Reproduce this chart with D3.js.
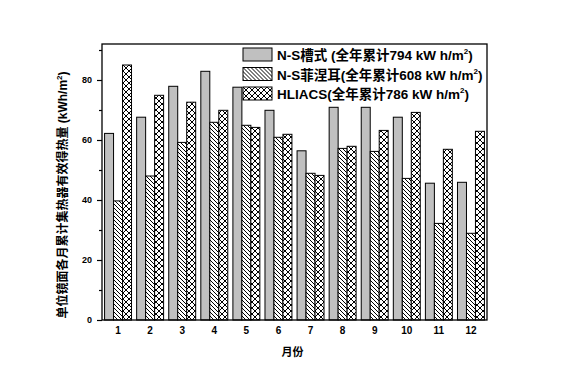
<!DOCTYPE html>
<html>
<body style="margin:0;background:#fff">
    <svg id="chart"></svg>
</body>
</html>

<style>
    text {
        font-family: "Liberation Sans", "Noto Sans CJK SC", sans-serif;
        font-weight: bold;
        fill: #000;
    }
</style>

<script src="https://cdn.jsdelivr.net/npm/d3@7"></script>
<script>
    "use strict"
    const width = 567;
    const height = 385;

    // values
    const months = ["1", "2", "3", "4", "5", "6", "7", "8", "9", "10", "11", "12"];
    const troughVals = [62.2, 67.6, 77.9, 82.9, 77.6, 69.9, 56.4, 70.9, 70.9, 67.6, 45.6, 45.9];
    const fresnelVals = [39.7, 48.0, 59.2, 65.9, 64.9, 60.9, 48.9, 57.2, 56.2, 47.2, 32.2, 28.9];
    const hliacsVals = [85.0, 74.9, 72.6, 69.9, 64.2, 61.9, 48.2, 57.9, 63.2, 69.2, 56.9, 62.9];
    const seriesNames = ["N-S槽式 (全年累计794 kW h/m", "N-S菲涅耳(全年累计608 kW h/m", "HLIACS(全年累计786 kW h/m"];
    const majorTicks = [0, 20, 40, 60, 80];
    const minorTicks = [10, 30, 50, 70, 90];

    const series = [troughVals, fresnelVals, hliacsVals];
    const fills = ["#c0c0c0", "url(#hatch)", "url(#cross)"];

    const margin = { top: 44, right: 80, bottom: 65, left: 102 };
    const plotW = width - margin.left - margin.right;
    const plotH = height - margin.top - margin.bottom;

    const svg = d3.select("#chart")
        .attr("width", width)
        .attr("height", height);

    const defs = svg.append("defs");
    const hatch = defs.append("pattern")
        .attr("id", "hatch")
        .attr("patternUnits", "userSpaceOnUse")
        .attr("width", 4).attr("height", 4);
    hatch.append("rect").attr("width", 4).attr("height", 4).attr("fill", "#fff");
    hatch.append("path")
        .attr("d", "M-1,-1L5,5M-1,3L1,5M3,-1L5,1")
        .attr("stroke", "#000").attr("stroke-width", 1);

    const cross = defs.append("pattern")
        .attr("id", "cross")
        .attr("patternUnits", "userSpaceOnUse")
        .attr("width", 6).attr("height", 6);
    cross.append("rect").attr("width", 6).attr("height", 6).attr("fill", "#fff");
    cross.append("path")
        .attr("d", "M0,0L6,6M6,0L0,6")
        .attr("stroke", "#000").attr("stroke-width", 1);

    const g = svg.append("g")
        .attr("transform", `translate(${margin.left},${margin.top})`);

    const x0 = d3.scaleBand()
        .domain(months)
        .range([0, plotW])
        .paddingInner(0.16)
        .paddingOuter(0.08);

    const x1 = d3.scaleBand()
        .domain(d3.range(series.length))
        .range([0, x0.bandwidth()]);

    const y = d3.scaleLinear()
        .domain([0, 92])
        .range([plotH, 0]);

    // bars
    series.forEach((vals, i) => {
        g.append("g").selectAll("rect")
            .data(vals)
            .join("rect")
            .attr("x", (d, j) => x0(months[j]) + x1(i))
            .attr("y", d => y(d))
            .attr("width", x1.bandwidth())
            .attr("height", d => y(0) - y(d))
            .attr("fill", fills[i])
            .attr("stroke", "#000")
            .attr("stroke-width", 1);
    });

    // frame
    g.append("rect")
        .attr("width", plotW)
        .attr("height", plotH)
        .attr("fill", "none")
        .attr("stroke", "#000")
        .attr("stroke-width", 1.3);

    // y axis
    const yAxis = g.append("g")
        .call(d3.axisLeft(y).tickValues(majorTicks).tickSize(5).tickPadding(5));
    yAxis.select(".domain").remove();
    yAxis.selectAll("line").attr("stroke-width", 1.2);
    yAxis.selectAll("text").style("font-size", "9px");

    const yMinor = g.append("g")
        .call(d3.axisLeft(y).tickValues(minorTicks).tickSize(3).tickFormat(""));
    yMinor.select(".domain").remove();
    yMinor.selectAll("line").attr("stroke-width", 1.2);

    // x axis
    const xAxis = g.append("g")
        .attr("transform", `translate(0,${plotH})`)
        .call(d3.axisBottom(x0).tickSize(0).tickPadding(7));
    xAxis.select(".domain").remove();
    xAxis.selectAll("text").style("font-size", "10px");

    // axis titles
    svg.append("text")
        .attr("x", margin.left + plotW / 2 - 2)
        .attr("y", 356)
        .attr("text-anchor", "middle")
        .style("font-size", "11px")
        .text("月份");

    const yTitle = svg.append("text")
        .attr("transform", "translate(67,195) rotate(-90)")
        .attr("text-anchor", "middle")
        .style("font-size", "12px");
    yTitle.append("tspan").text("单位镜面各月累计集热器有效得热量 (kWh/m");
    yTitle.append("tspan").attr("dy", -5).style("font-size", "8px").text("2");
    yTitle.append("tspan").attr("dy", 5).text(")");

    // legend
    const legend = svg.append("g")
        .attr("transform", "translate(243,48)");
    const rows = legend.selectAll("g")
        .data(seriesNames)
        .join("g")
        .attr("transform", (d, i) => `translate(0,${i * 19.5})`);
    rows.append("rect")
        .attr("width", 29)
        .attr("height", 13)
        .attr("fill", (d, i) => fills[i])
        .attr("stroke", "#000")
        .attr("stroke-width", 1);
    const labels = rows.append("text")
        .attr("x", 34)
        .attr("y", 12)
        .style("font-size", "13.5px");
    labels.append("tspan").text(d => d);
    labels.append("tspan").attr("dy", -6).style("font-size", "8px").text("2");
    labels.append("tspan").attr("dy", 6).text(")");
</script>
